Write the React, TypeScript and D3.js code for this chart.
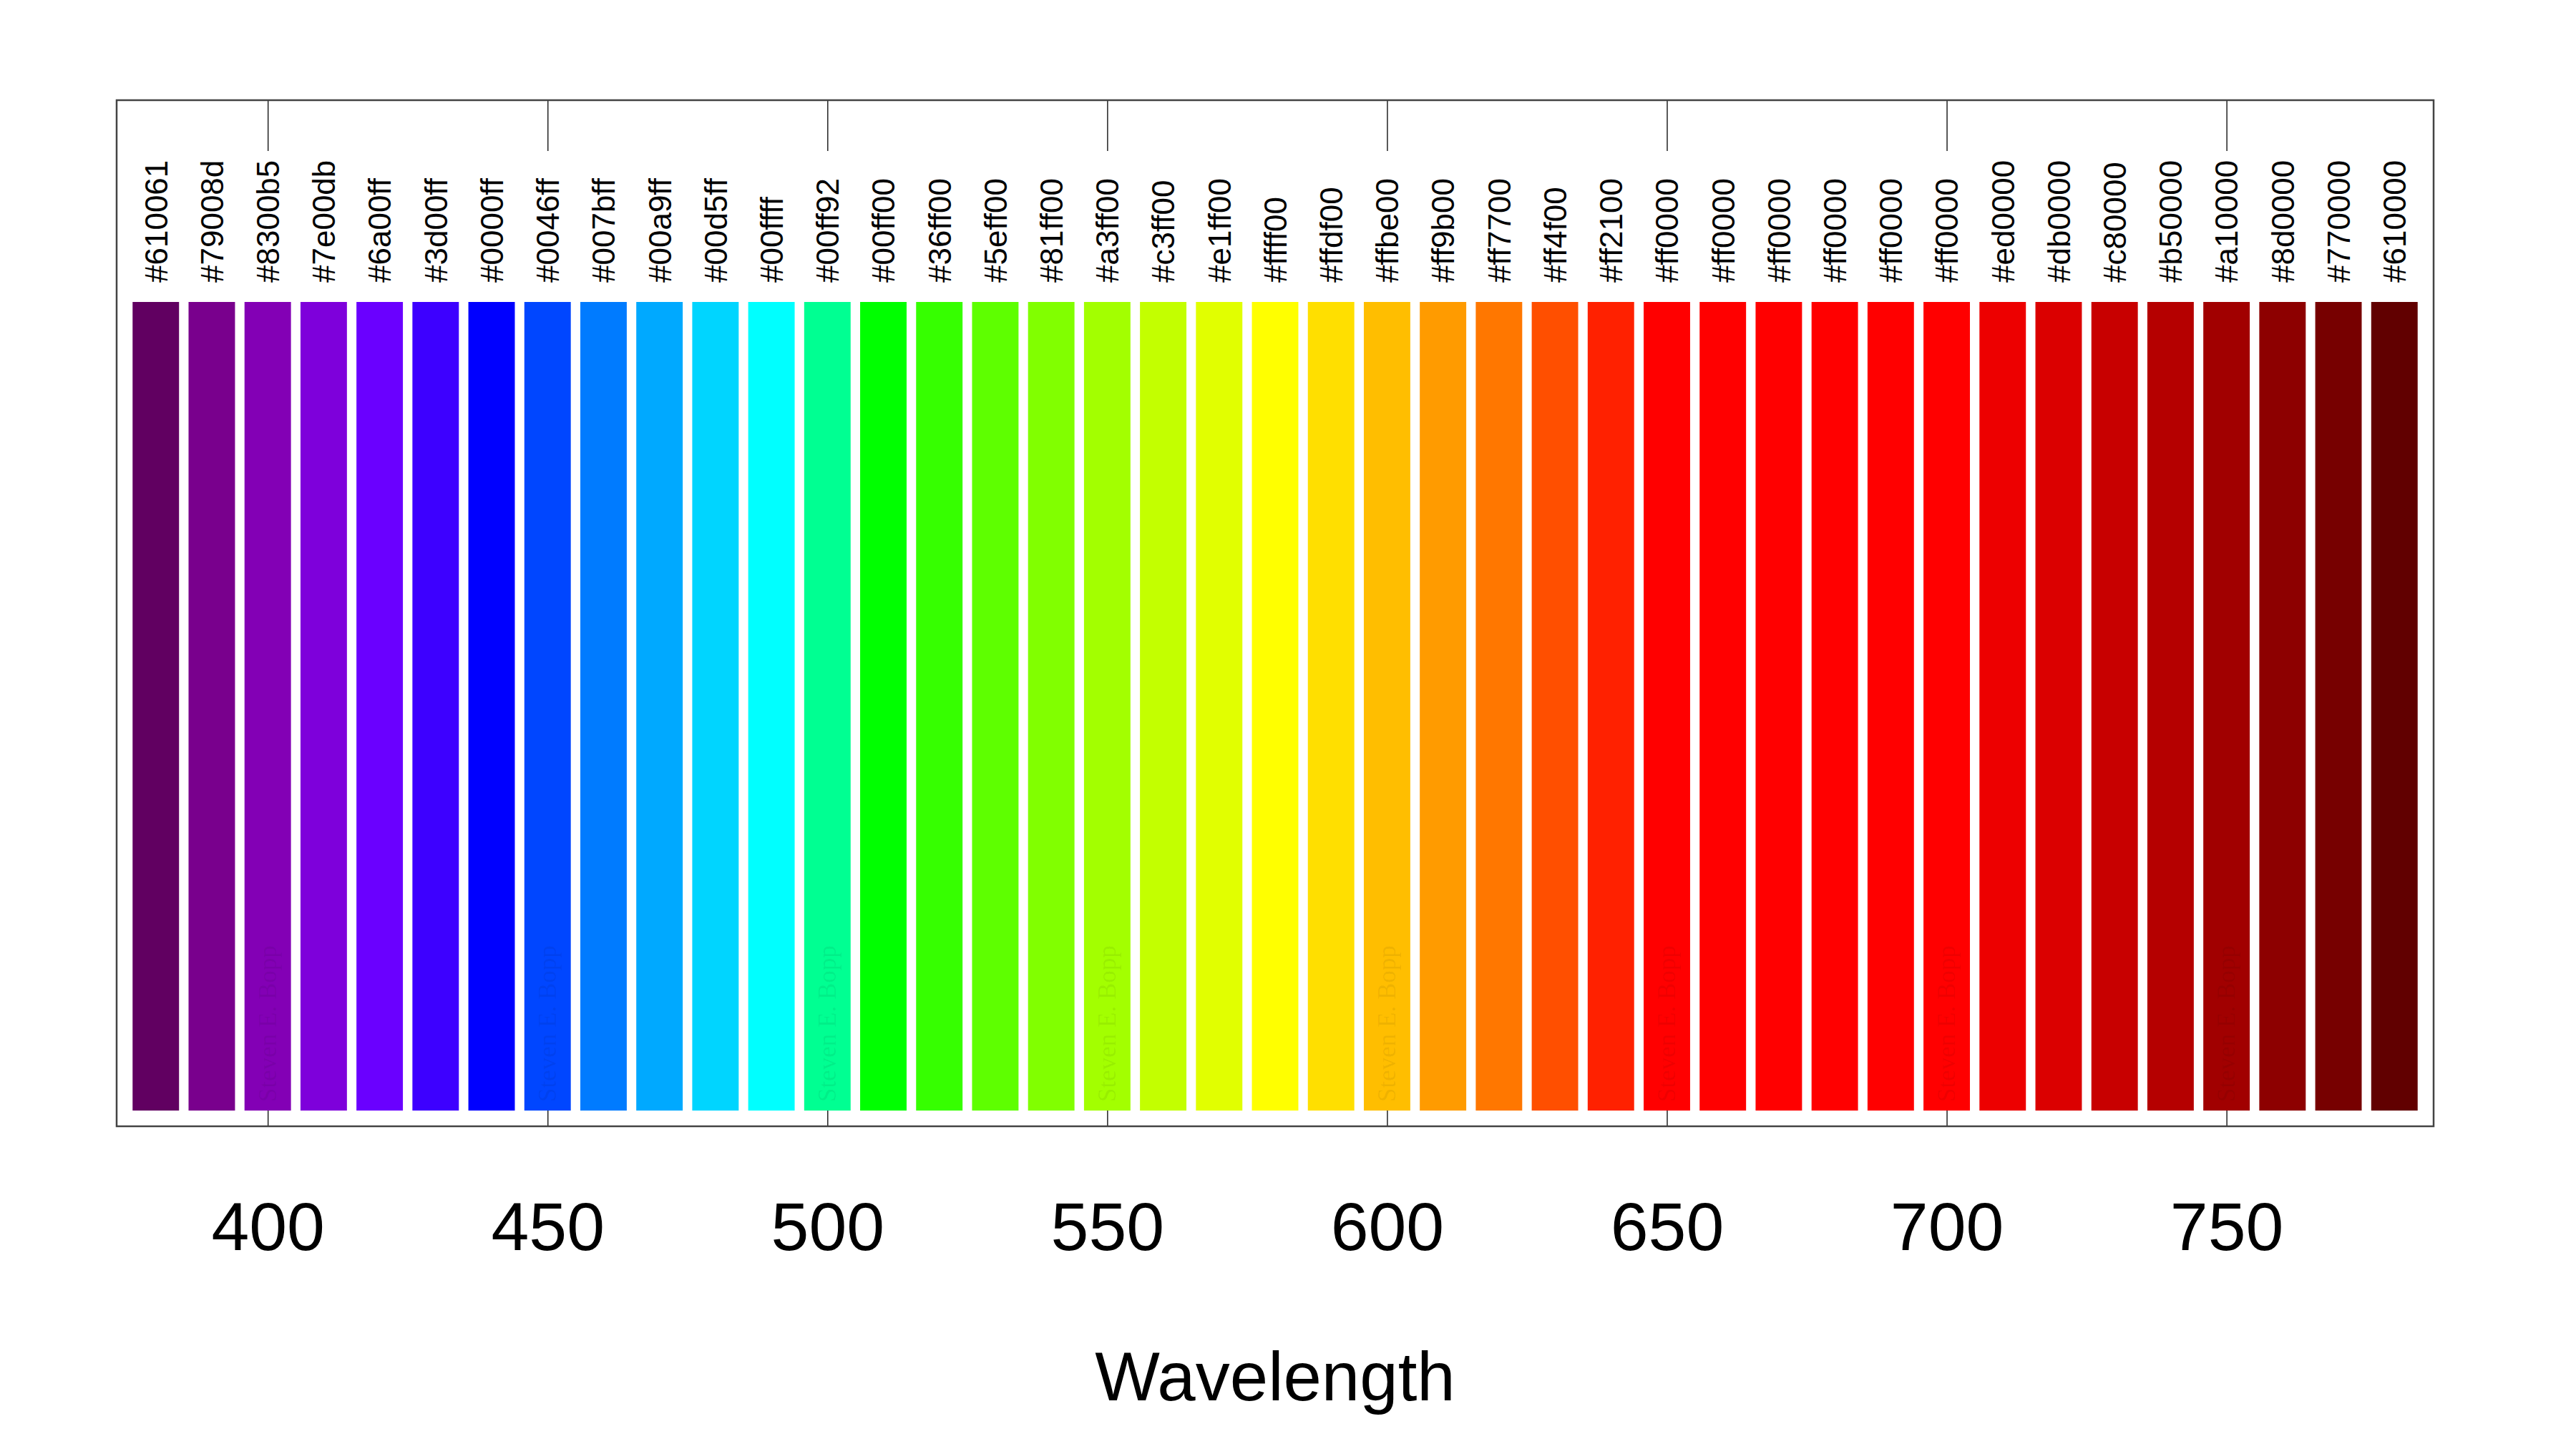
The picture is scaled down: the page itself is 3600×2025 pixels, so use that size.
// Visible spectrum swatches: one bar per 10 nm with its hex colour written above.
import { useEffect, useRef } from "react";
import * as d3 from "d3";

const WAVELENGTHS = [
  380, 390, 400, 410, 420, 430, 440, 450, 460, 470, 480, 490, 500, 510, 520, 530, 540,
  550, 560, 570, 580, 590, 600, 610, 620, 630, 640, 650, 660, 670, 680, 690, 700, 710,
  720, 730, 740, 750, 760, 770, 780,
];

const COLORS = [
  "#610061", "#79008d", "#8300b5", "#7e00db", "#6a00ff", "#3d00ff", "#0000ff", "#0046ff",
  "#007bff", "#00a9ff", "#00d5ff", "#00ffff", "#00ff92", "#00ff00", "#36ff00", "#5eff00",
  "#81ff00", "#a3ff00", "#c3ff00", "#e1ff00", "#ffff00", "#ffdf00", "#ffbe00", "#ff9b00",
  "#ff7700", "#ff4f00", "#ff2100", "#ff0000", "#ff0000", "#ff0000", "#ff0000", "#ff0000",
  "#ff0000", "#ed0000", "#db0000", "#c80000", "#b50000", "#a10000", "#8d0000", "#770000",
  "#610000",
];

const TICKS = [400, 450, 500, 550, 600, 650, 700, 750];
const X_DOMAIN: [number, number] = [373, 787];
const WATERMARK = "Steven E. Bopp";

const W = 3600;
const H = 2025;

export default function App() {
  const svgRef = useRef<SVGSVGElement | null>(null);

  useEffect(() => {
    const svg = d3.select(svgRef.current);
    svg.selectAll("*").remove();

    const box = { left: 163, right: 3401, top: 140, bottom: 1574 };
    const tickLen = 71;

    const x = d3.scaleLinear().domain(X_DOMAIN).range([box.left, box.right]);
    const y = d3.scaleLinear().domain([0, 1]).range([1552, 422]);
    const step = x(WAVELENGTHS[1]) - x(WAVELENGTHS[0]);
    const bw = step * 0.83;

    svg.append("rect").attr("width", W).attr("height", H).attr("fill", "#fff");

    // inward ticks, top and bottom (bars sit over the bottom ones)
    const top = svg
      .append("g")
      .attr("transform", `translate(0,${box.top})`)
      .call(d3.axisTop(x).tickValues(TICKS).tickSize(-tickLen).tickFormat(() => ""));
    top.select(".domain").remove();
    top.selectAll("line").attr("stroke", "#222").attr("stroke-width", 1.5);

    const bottom = svg
      .append("g")
      .attr("transform", `translate(0,${box.bottom})`)
      .call(
        d3
          .axisBottom(x)
          .tickValues(TICKS)
          .tickSize(-tickLen)
          .tickPadding(106)
          .tickFormat((v) => String(v)),
      );
    bottom.select(".domain").remove();
    bottom.selectAll("line").attr("stroke", "#222").attr("stroke-width", 1.5);
    bottom
      .selectAll("text")
      .attr("font-family", "'Liberation Sans', Arial, sans-serif")
      .attr("font-size", 95)
      .attr("fill", "#000");

    // swatches
    svg
      .append("g")
      .selectAll("rect")
      .data(WAVELENGTHS)
      .join("rect")
      .attr("x", (d) => x(d) - bw / 2)
      .attr("y", y(1))
      .attr("width", bw)
      .attr("height", y(0) - y(1))
      .attr("fill", (_, i) => COLORS[i]);

    // faint watermark on the tick bars
    svg
      .append("g")
      .selectAll("text")
      .data(TICKS)
      .join("text")
      .attr("transform", (d) => `translate(${x(d)},1540) rotate(-90)`)
      .attr("dy", "0.33em")
      .attr("font-family", "'Liberation Serif', 'Times New Roman', serif")
      .attr("font-size", 35)
      .attr("fill", "#000")
      .attr("fill-opacity", 0.07)
      .text(WATERMARK);

    // hex labels
    svg
      .append("g")
      .selectAll("text")
      .data(WAVELENGTHS)
      .join("text")
      .attr("transform", (d) => `translate(${x(d)},395) rotate(-90)`)
      .attr("dy", "0.36em")
      .attr("font-family", "'Liberation Sans', Arial, sans-serif")
      .attr("font-size", 44)
      .attr("fill", "#000")
      .text((_, i) => COLORS[i]);

    // frame
    svg
      .append("rect")
      .attr("x", box.left)
      .attr("y", box.top)
      .attr("width", box.right - box.left)
      .attr("height", box.bottom - box.top)
      .attr("fill", "none")
      .attr("stroke", "#444")
      .attr("stroke-width", 2.5);

    svg
      .append("text")
      .attr("x", (box.left + box.right) / 2)
      .attr("y", 1957)
      .attr("text-anchor", "middle")
      .attr("font-family", "'Liberation Sans', Arial, sans-serif")
      .attr("font-size", 96)
      .attr("fill", "#000")
      .text("Wavelength");
  }, []);

  return (
    <svg
      ref={svgRef}
      width={W}
      height={H}
      viewBox={`0 0 ${W} ${H}`}
      style={{ position: "fixed", top: 0, left: 0, display: "block" }}
    />
  );
}
